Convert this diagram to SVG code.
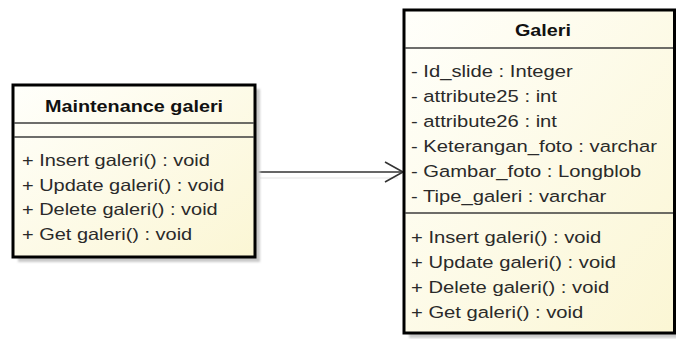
<svg xmlns="http://www.w3.org/2000/svg" width="676" height="339" viewBox="0 0 676 339">
  <style>
    .box { stroke: #000; stroke-width: 3; fill: url(#fillGrad); }
    .shadow { fill: #c9c9c9; filter: url(#blur); }
    .div { stroke: #3c3c3c; stroke-width: 1.5; }
    .title { font-family: "Liberation Sans", Arial, sans-serif; font-size: 16.5px; font-weight: bold; fill: #111; text-anchor: middle; }
    .txt { font-family: "Liberation Sans", Arial, sans-serif; font-size: 16.5px; fill: #2a2a2a; }
    .edge { stroke: #333; stroke-width: 1.6; fill: none; }
    .edgeShadow { stroke: #ececec; stroke-width: 1.5; fill: none; }
  </style>
  <defs>
    <linearGradient id="fillGrad" x1="0" y1="0" x2="1" y2="1">
      <stop offset="0" stop-color="#fffffb"/>
      <stop offset="1" stop-color="#fbf6d4"/>
    </linearGradient>
    <filter id="blur" x="-10%" y="-10%" width="120%" height="120%">
      <feGaussianBlur stdDeviation="1.2"/>
    </filter>
    <marker id="openArrow" markerUnits="userSpaceOnUse" markerWidth="24" markerHeight="24" viewBox="-20 -12 24 24" refX="0" refY="0" orient="auto">
      <path d="M -18 -10 L 0 0 L -18 10" fill="none" stroke="#333" stroke-width="1.6"/>
    </marker>
  </defs>
  <rect width="676" height="339" fill="#fff"/>

  <g id="connectors">
    <line class="edgeShadow" x1="260" y1="178" x2="398" y2="178"/>
    <line class="edge" x1="255" y1="172" x2="403" y2="172" marker-end="url(#openArrow)"/>
  </g>

  <g id="maintenance-galeri">
    <rect class="shadow" x="18" y="89" width="242" height="173"/>
    <rect class="box" x="13" y="85" width="242" height="172"/>
    <line class="div" x1="14" y1="123" x2="254" y2="123"/>
    <line class="div" x1="14" y1="137" x2="254" y2="137"/>
    <g transform="translate(134 0) scale(1.2 1)">
      <text class="title" x="0" y="112">Maintenance galeri</text>
    </g>
    <g transform="translate(22 0) scale(1.21 1)">
      <text class="txt" x="0" y="166">+ Insert galeri() : void</text>
      <text class="txt" x="0" y="191">+ Update galeri() : void</text>
      <text class="txt" x="0" y="215">+ Delete galeri() : void</text>
      <text class="txt" x="0" y="240">+ Get galeri() : void</text>
    </g>
  </g>

  <g id="galeri">
    <rect class="shadow" x="409" y="15" width="270" height="323"/>
    <rect class="box" x="404" y="10" width="270.5" height="323"/>
    <line class="div" x1="405" y1="48" x2="673" y2="48"/>
    <line class="div" x1="405" y1="213" x2="673" y2="213"/>
    <g transform="translate(543 0) scale(1.2 1)">
      <text class="title" x="0" y="36">Galeri</text>
    </g>
    <g transform="translate(411 0) scale(1.225 1)">
      <text class="txt" x="0" y="77">- Id_slide : Integer</text>
      <text class="txt" x="0" y="102">- attribute25 : int</text>
      <text class="txt" x="0" y="127">- attribute26 : int</text>
      <text class="txt" x="0" y="152">- Keterangan_foto : varchar</text>
      <text class="txt" x="0" y="177">- Gambar_foto : Longblob</text>
      <text class="txt" x="0" y="202">- Tipe_galeri : varchar</text>
      <text class="txt" x="0" y="243">+ Insert galeri() : void</text>
      <text class="txt" x="0" y="268">+ Update galeri() : void</text>
      <text class="txt" x="0" y="293">+ Delete galeri() : void</text>
      <text class="txt" x="0" y="318">+ Get galeri() : void</text>
    </g>
  </g>
</svg>
